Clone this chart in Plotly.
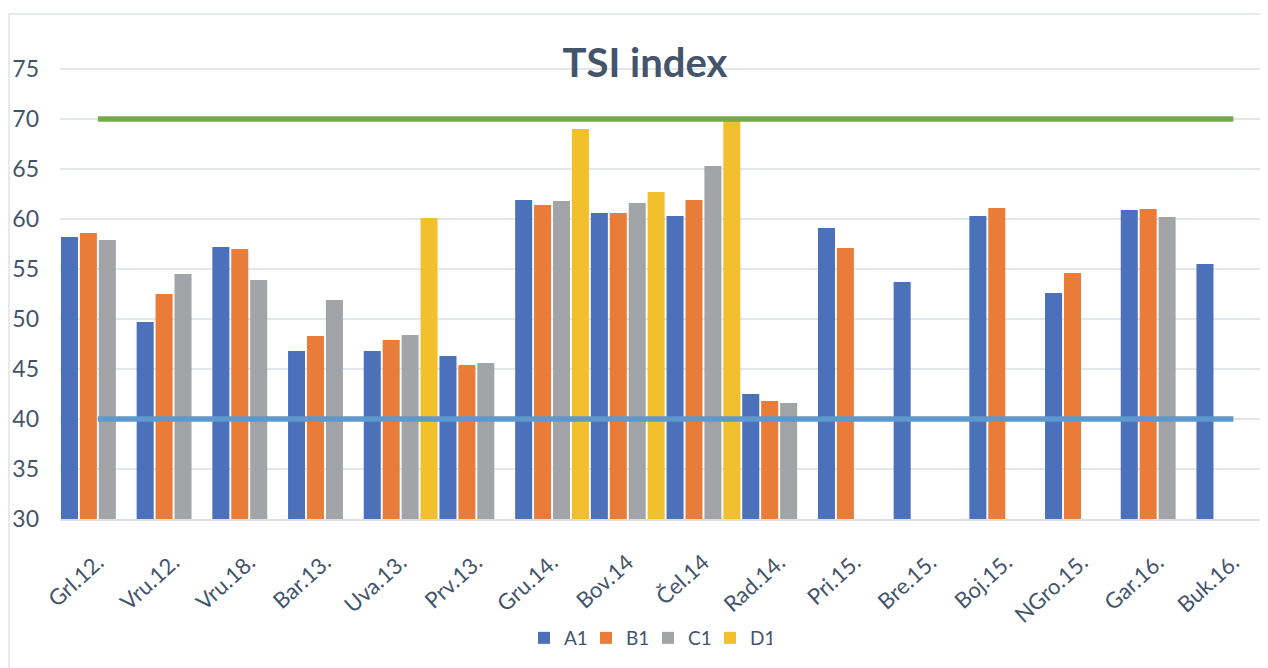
import plotly.graph_objects as go

# ---------------- data ----------------
categories = ["Grl.12.", "Vru.12.", "Vru.18.", "Bar.13.", "Uva.13.", "Prv.13.",
              "Gru.14.", "Bov.14", "Čel.14", "Rad.14.", "Pri.15.", "Bre.15.",
              "Boj.15.", "NGro.15.", "Gar.16.", "Buk.16."]
a1 = [58.2, 49.7, 57.2, 46.8, 46.8, 46.3, 61.9, 60.6, 60.3, 42.5, 59.1, 53.7, 60.3, 52.6, 60.9, 55.5]
b1 = [58.6, 52.5, 57.0, 48.3, 47.9, 45.4, 61.4, 60.6, 61.9, 41.8, 57.1, None, 61.1, 54.6, 61.0, None]
c1 = [57.9, 54.5, 53.9, 51.9, 48.4, 45.6, 61.8, 61.6, 65.3, 41.6, None, None, None, None, 60.2, None]
d1 = [None, None, None, None, 60.1, None, 69.0, 62.7, 70.0, None, None, None, None, None, None, None]
limit_upper = [70, 70, 70, 70, 70, 70, 70, 70, 70, 70, 70, 70, 70, 70, 70, 70]
limit_lower = [40, 40, 40, 40, 40, 40, 40, 40, 40, 40, 40, 40, 40, 40, 40, 40]
y_ticks = [30, 35, 40, 45, 50, 55, 60, 65, 70, 75]

# ---------------- styles ----------------
TEXT = "#44546A"
FONT = "Lato"
bar_series = [("A1", a1, "#4A71BA"), ("B1", b1, "#EA7C3A"),
              ("C1", c1, "#A3A4A7"), ("D1", d1, "#F2BF2D")]

fig = go.Figure()
for name, vals, col in bar_series:
    fig.add_trace(go.Bar(x=categories, y=vals, name=name,
                         marker=dict(color=col, line=dict(width=0))))

fig.add_trace(go.Scatter(x=categories, y=limit_upper, mode="lines", showlegend=False,
                         line=dict(color="#75AA4B", width=5.5), hoverinfo="skip"))
fig.add_trace(go.Scatter(x=categories, y=limit_lower, mode="lines", showlegend=False,
                         line=dict(color="#5E98CD", width=5.5), hoverinfo="skip"))

OFF = 8  # page body offset
W, H = 1268, 668
L, R, T, B = 60 - OFF, 0, 19 - OFF, 149 + OFF
pw = W - L - R
ph = H - T - B

fig.update_layout(
    width=W, height=H,
    margin=dict(l=L, r=R, t=T, b=B, pad=0, autoexpand=False),
    paper_bgcolor="white", plot_bgcolor="white",
    barmode="group", bargap=0, bargroupgap=0.1,
    font=dict(family=FONT, color=TEXT),
    title=dict(text="<b>TSI index</b>", font=dict(family=FONT, size=40, color=TEXT),
               xref="container", x=(645 - OFF) / W, xanchor="center",
               yref="container", y=1 - (63 - OFF) / H, yanchor="middle"),
    legend=dict(orientation="h", xref="container", x=(648 - OFF) / W, xanchor="center",
                yref="container", y=1 - (638 - OFF) / H, yanchor="middle",
                font=dict(family=FONT, size=19, color=TEXT),
                itemwidth=30, entrywidth=17, traceorder="normal"),
    showlegend=True,
)

fig.update_xaxes(
    type="category", automargin=False,
    range=[-0.5, -0.5 + pw / 75.7],
    showgrid=False, showline=True, linecolor="#DCE0E5", linewidth=2,
    ticks="", tickangle=-42,
    tickfont=dict(family=FONT, size=22, color=TEXT),
    ticklabelstandoff=20,
)
fig.update_yaxes(
    automargin=False,
    range=[30, 80], tickvals=y_ticks,
    showgrid=True, gridcolor="#E3E7EB", gridwidth=1.5,
    zeroline=False, showline=False, ticks="",
    tickfont=dict(family=FONT, size=23, color=TEXT),
    ticklabelstandoff=20,
)

# chart-area border (light frame, cut by the image edges)
fig.add_shape(type="rect", xref="paper", yref="paper",
              x0=(9 - OFF - L) / pw, x1=1.02,
              y0=(H - B - 720) / ph, y1=(H - B - (14 - OFF)) / ph,
              line=dict(color="#DFE3E8", width=1.5), fillcolor="rgba(0,0,0,0)", layer="below")

fig.write_html("out.html")
